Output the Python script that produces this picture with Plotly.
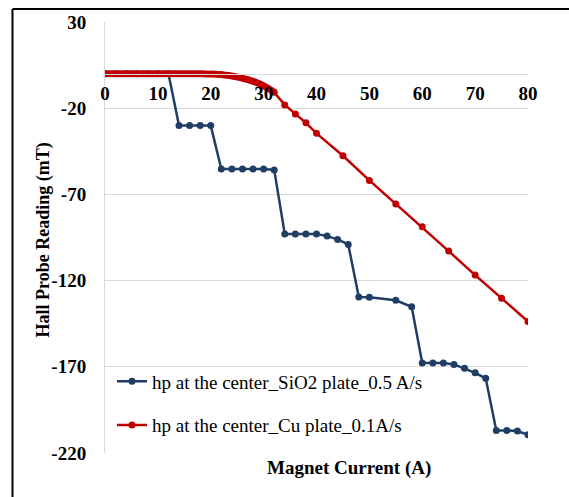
import plotly.graph_objects as go

# ---- data ----
sio2_current = [0, 2, 4, 6, 8, 10, 12, 14, 16, 18, 20, 22, 24, 26, 28, 30, 32,
                34, 36, 38, 40, 42, 44, 46, 48, 50, 55, 58, 60, 62, 64, 66, 68,
                70, 72, 74, 76, 78, 80]
sio2_field = [0, 0, 0, 0, 0, 0, 0, -30.1, -30.1, -30.1, -30.1, -55.3, -55.3,
              -55.3, -55.3, -55.3, -55.8, -92.9, -92.9, -92.9, -92.9, -94.2,
              -96.1, -99.0, -129.5, -129.6, -131.4, -135.2, -167.8, -167.8,
              -167.8, -168.6, -170.9, -173.5, -176.7, -206.9, -206.9, -207.3,
              -209.4]

cu_current = [0, 0.5, 1, 1.5, 2, 2.5, 3, 3.5, 4, 4.5, 5, 5.5, 6, 6.5, 7, 7.5,
              8, 8.5, 9, 9.5, 10, 10.5, 11, 11.5, 12, 12.5, 13, 13.5, 14, 14.5,
              15, 15.5, 16, 16.5, 17, 17.5, 18, 18.5, 19, 19.5, 20, 20.5, 21,
              21.5, 22, 22.5, 23, 23.5, 24, 24.5, 25, 25.5, 26, 26.5, 27, 27.5,
              28, 28.5, 29, 29.5, 30, 30.5, 31, 31.5, 32, 34, 36, 38, 40, 45,
              50, 55, 60, 65, 70, 75, 80]
cu_field = [0, 0, 0, 0, 0, 0, 0, 0, 0, 0, 0, 0, 0, 0, 0, 0,
            0, 0, 0, 0, 0, 0, 0, 0, 0, 0, 0, 0, 0, 0,
            0, 0, 0, 0, 0, 0, -0.05, -0.05, -0.1, -0.1, -0.1, -0.2, -0.3,
            -0.4, -0.5, -0.7, -0.9, -1.1, -1.3, -1.6, -1.9, -2.2, -2.6, -3.0,
            -3.4, -3.9, -4.4, -5.0, -5.6, -6.3, -7.0, -7.8, -8.7, -9.7, -10.8,
            -18.1, -23.3, -28.5, -34.6, -47.6, -61.9, -75.6, -88.8, -102.9,
            -116.8, -130.2, -143.7]

x_ticks = [0, 10, 20, 30, 40, 50, 60, 70, 80]
x_tick_text = ["0", "10", "20", "30", "40", "50", "60", "70", "80"]
y_ticks = [30, -20, -70, -120, -170, -220]
y_tick_text = ["30", "-20", "-70", "-120", "-170", "-220"]

series_names = ["hp at the center_SiO2 plate_0.5 A/s",
                "hp at the center_Cu plate_0.1A/s"]

# ---- figure ----
W, H = 569, 497
L, R, T, B = 105, 41, 20, 44
PW, PH = W - L - R, H - T - B


def px_x(px):
    return (px - L) / PW


def px_y(py):
    return (H - B - py) / PH


SERIF = "Liberation Serif, Times New Roman, serif"
BLUE = "#203e64"
RED = "#c00000"

fig = go.Figure()
fig.add_trace(go.Scatter(
    x=sio2_current, y=sio2_field, mode="lines+markers", name=series_names[0],
    line=dict(color=BLUE, width=2.5), marker=dict(color=BLUE, size=7),
    legendgroup="a"))
fig.add_trace(go.Scatter(
    x=cu_current, y=cu_field, mode="lines+markers", name=series_names[1],
    line=dict(color=RED, width=2.5), marker=dict(color=RED, size=7),
    legendgroup="b"))

axis_pos = (0 - y_ticks[-1]) / (y_ticks[0] - y_ticks[-1])

fig.update_layout(
    width=W, height=H,
    margin=dict(l=L, r=R, t=T, b=B, pad=0),
    paper_bgcolor="white", plot_bgcolor="white",
    font=dict(family=SERIF, color="black"),
    showlegend=True,
    legend=dict(x=px_x(112), y=px_y(362), xanchor="left", yanchor="top",
                bgcolor="rgba(0,0,0,0)", font=dict(size=19, family=SERIF),
                tracegroupgap=16, itemwidth=30),
    xaxis=dict(range=[0, 80], tickvals=x_ticks, ticktext=x_tick_text,
               showgrid=False, zeroline=False, showline=True,
               linecolor="#d9d9d9", linewidth=1, anchor="free",
               position=axis_pos, ticks="", ticklabelstandoff=2,
               tickfont=dict(size=19, family=SERIF, weight="bold")),
    yaxis=dict(range=[-220, 30], tickvals=y_ticks, ticktext=y_tick_text,
               showgrid=True, gridcolor="#d9d9d9", gridwidth=1,
               zeroline=False, showline=True, linecolor="#d9d9d9",
               linewidth=1, ticks="", ticklabelstandoff=14,
               tickfont=dict(size=19, family=SERIF, weight="bold")),
    shapes=[dict(type="line", xref="paper", yref="paper",
                 x0=px_x(12.5), x1=px_x(12.5), y0=px_y(7), y1=px_y(520),
                 line=dict(color="black", width=2)),
            dict(type="line", xref="paper", yref="paper",
                 x0=px_x(12.5), x1=px_x(600), y0=px_y(7), y1=px_y(7),
                 line=dict(color="black", width=2))],
    annotations=[
        dict(text="<b>Hall Probe Reading (mT)</b>", xref="paper",
             yref="paper", x=px_x(43), y=px_y(239.5), textangle=-90,
             xanchor="center", yanchor="middle",
             showarrow=False, font=dict(size=18, family=SERIF)),
        dict(text="<b>Magnet Current (A)</b>", xref="paper", yref="paper",
             x=px_x(349), y=px_y(468), xanchor="center", yanchor="middle",
             showarrow=False, font=dict(size=19, family=SERIF)),
    ],
)

fig.write_html("out.html", config={"displayModeBar": False},
               post_script="document.body.style.margin='0px';")
